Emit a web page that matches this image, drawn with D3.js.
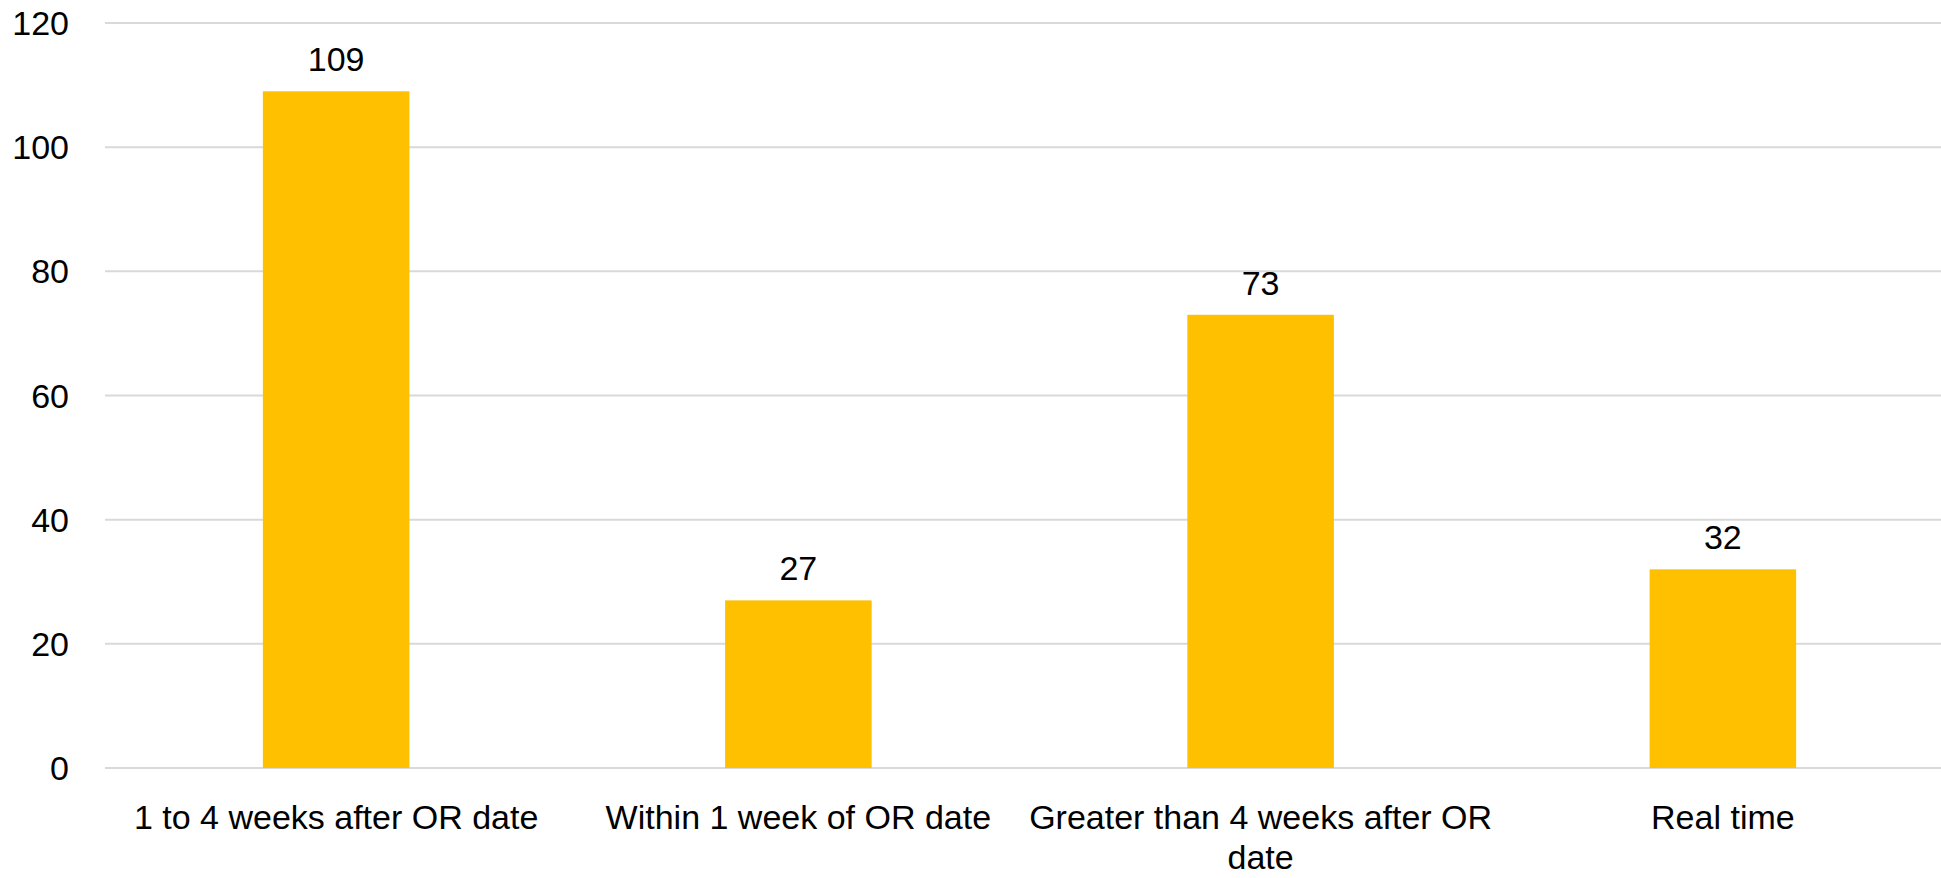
<!DOCTYPE html>
<html><head><meta charset="utf-8">
<script src="https://cdn.jsdelivr.net/npm/d3@7"></script>
<style>html,body{margin:0;padding:0;background:#fff;overflow:hidden}</style>
</head><body>
<svg id="chart" width="1941" height="878"></svg>
<script>
const categories = ["1 to 4 weeks after OR date", "Within 1 week of OR date", "Greater than 4 weeks after OR date", "Real time"];
const values = [109, 27, 73, 32];
const yTicks = [0, 20, 40, 60, 80, 100, 120];

(function () {
const W = 1941, H = 878;
const mLeft = 105, mRight = 1954, mTop = 23, mBottom = 768;
const font = "'Liberation Sans', Arial, sans-serif";
const fs = 34;

const svg = d3.select("#chart");
const x = d3.scaleBand().domain(categories).range([mLeft, mRight]).padding(0);
const y = d3.scaleLinear().domain([0, 120]).range([mBottom, mTop]);
const barW = x.bandwidth() * 0.317;

// gridlines
svg.append("g").selectAll("line").data(yTicks).join("line")
  .attr("x1", mLeft).attr("x2", W)
  .attr("y1", d => y(d)).attr("y2", d => y(d))
  .attr("stroke", "#d9d9d9").attr("stroke-width", 2);

// y tick labels
svg.append("g").selectAll("text").data(yTicks).join("text")
  .attr("x", 69).attr("y", d => y(d) + 12)
  .attr("text-anchor", "end")
  .attr("font-family", font).attr("font-size", fs).attr("fill", "#000")
  .text(d => d);

// bars
svg.append("g").selectAll("rect").data(values).join("rect")
  .attr("x", (d, i) => x(categories[i]) + x.bandwidth() / 2 - barW / 2)
  .attr("width", barW)
  .attr("y", d => y(d))
  .attr("height", d => y(0) - y(d))
  .attr("fill", "#FFC000");

// value labels
svg.append("g").selectAll("text").data(values).join("text")
  .attr("x", (d, i) => x(categories[i]) + x.bandwidth() / 2)
  .attr("y", d => y(d) - 20)
  .attr("text-anchor", "middle")
  .attr("font-family", font).attr("font-size", fs).attr("fill", "#000")
  .text(d => d);

// category labels with wrapping
const maxW = x.bandwidth() * 1.06;
categories.forEach(c => {
  const cx = x(c) + x.bandwidth() / 2;
  const t = svg.append("text")
    .attr("x", cx)
    .attr("y", 829)
    .attr("text-anchor", "middle")
    .attr("font-family", font).attr("font-size", fs).attr("fill", "#000");
  const words = c.split(" ");
  let line = [];
  let ts = t.append("tspan").attr("x", cx).attr("dy", 0);
  words.forEach(w => {
    line.push(w);
    ts.text(line.join(" "));
    if (ts.node().getComputedTextLength() > maxW && line.length > 1) {
      line.pop();
      ts.text(line.join(" "));
      line = [w];
      ts = t.append("tspan").attr("x", cx).attr("dy", 40).text(w);
    }
  });
});
})();
</script>
</body></html>
